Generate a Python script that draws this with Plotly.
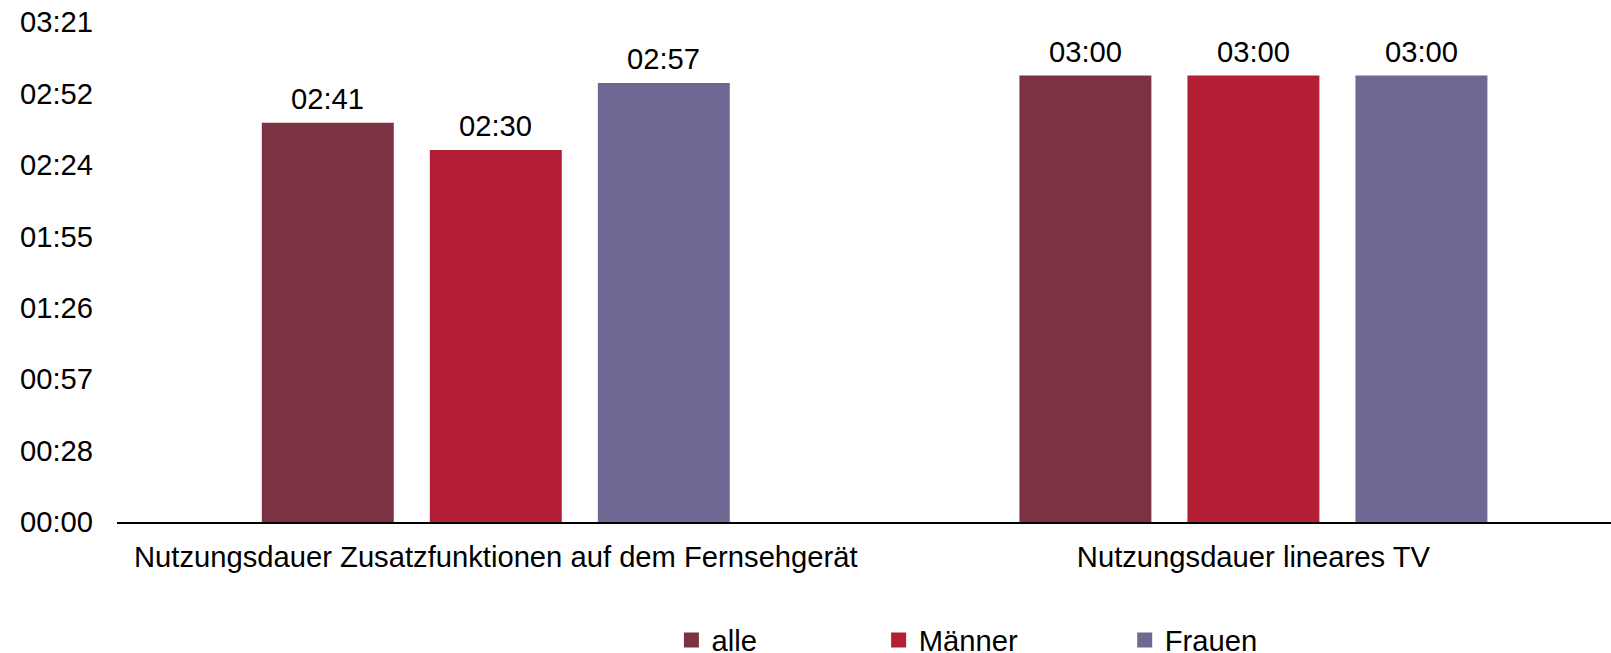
import plotly.graph_objects as go

categories = ["Nutzungsdauer Zusatzfunktionen auf dem Fernsehgerät", "Nutzungsdauer lineares TV"]
series_names = ["alle", "Männer", "Frauen"]
# durations in minutes
alle = [161, 180]
maenner = [150, 180]
frauen = [177, 180]
series_values = [alle, maenner, frauen]
colors = ["#7B3343", "#B51F35", "#6E6892"]

# y ticks: 0.02 day steps (28.8 min)
tick_minutes = [0, 28.8, 57.6, 86.4, 115.2, 144.0, 172.8, 201.6]
tick_labels = ["00:00", "00:28", "00:57", "01:26", "01:55", "02:24", "02:52", "03:21"]

def fmt(m):
    m = int(round(m))
    return f"{m // 60:02d}:{m % 60:02d}"

FONT = "Liberation Sans, Arial, sans-serif"
FS = 29.2
BARGAP = 0.3347
BARGROUPGAP = 0.2146
legend_ids = ["legend", "legend2", "legend3"]
legend_x = [0.3711, 0.5098, 0.6745]

fig = go.Figure()
for name, vals, col, lid in zip(series_names, series_values, colors, legend_ids):
    fig.add_trace(go.Bar(
        x=categories, y=vals, name=name,
        marker=dict(color=col, line=dict(width=0)),
        showlegend=False,
    ))
    # legend proxy with square marker
    fig.add_trace(go.Scatter(
        x=[None], y=[None], mode="markers", name=name,
        marker=dict(symbol="square", size=15, color=col),
        showlegend=True, legend=lid,
    ))

# data labels (positioned via the axis scale and the group layout)
n = len(series_names)
slot = (1 - BARGAP) / n
for i, vals in enumerate(series_values):
    for j, v in enumerate(vals):
        fig.add_annotation(
            x=j + (i - (n - 1) / 2) * slot, y=v, xref="x", yref="y",
            text=fmt(v), showarrow=False, yanchor="bottom", yshift=6,
            font=dict(family=FONT, size=FS, color="#000000"),
        )

legend_common = dict(
    orientation="h", xanchor="left", y=-0.236, yanchor="middle",
    font=dict(family=FONT, size=FS, color="#000000"),
    bgcolor="rgba(0,0,0,0)",
)
fig.update_layout(
    width=1611, height=653,
    margin=dict(l=117, r=0, t=22, b=131, autoexpand=False),
    paper_bgcolor="white", plot_bgcolor="white",
    barmode="group", bargap=BARGAP, bargroupgap=BARGROUPGAP,
    font=dict(family=FONT, size=FS, color="#000000"),
    legend=dict(x=legend_x[0], **legend_common),
    legend2=dict(x=legend_x[1], **legend_common),
    legend3=dict(x=legend_x[2], **legend_common),
)
fig.update_xaxes(
    type="category", range=[-0.5, 1.472],
    showline=True, linecolor="#000000", linewidth=2,
    showgrid=False, zeroline=False, ticks="",
    ticklabelstandoff=8, automargin=False,
    tickfont=dict(family=FONT, size=FS, color="#000000"),
)
fig.update_yaxes(
    range=[0, 201.6], tickvals=tick_minutes, ticktext=tick_labels,
    showline=False, showgrid=False, zeroline=False, ticks="",
    ticklabelstandoff=23, automargin=False,
    tickfont=dict(family=FONT, size=FS, color="#000000"),
)

fig.write_html(
    "out.html",
    config={"displayModeBar": False},
    post_script="document.body.style.margin='0';document.body.style.overflow='hidden';",
)
